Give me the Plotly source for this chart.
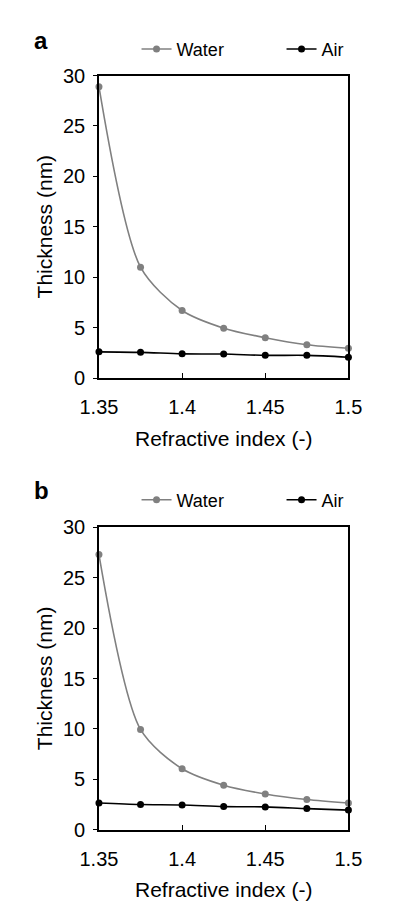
import plotly.graph_objects as go

# ---- data ----
refractive_index = [1.35, 1.375, 1.4, 1.425, 1.45, 1.475, 1.5]
water_a = [28.9, 11.0, 6.7, 4.95, 4.0, 3.3, 2.95]
air_a = [2.6, 2.55, 2.4, 2.38, 2.25, 2.25, 2.07]
water_b = [27.3, 9.95, 6.05, 4.42, 3.55, 3.0, 2.65]
air_b = [2.65, 2.5, 2.46, 2.3, 2.27, 2.1, 1.95]
x_ticks = [1.35, 1.4, 1.45, 1.5]
x_tick_text = ["1.35", "1.4", "1.45", "1.5"]
y_ticks = [0, 5, 10, 15, 20, 25, 30]

W, H = 419, 904
def px(x): return x / W
def py(y): return 1 - y / H

FONT = "Liberation Sans, Arial, sans-serif"
GRAY = "#808080"
BLACK = "#000000"

fig = go.Figure()

def add_panel(xa, ya, legend, water, air):
    fig.add_trace(go.Scatter(x=refractive_index, y=water, name="Water", mode="lines+markers",
                             line=dict(color=GRAY, width=1.6, shape="spline", smoothing=0.8),
                             marker=dict(color=GRAY, size=7), xaxis=xa, yaxis=ya,
                             legend=legend, cliponaxis=False))
    fig.add_trace(go.Scatter(x=refractive_index, y=air, name="Air", mode="lines+markers",
                             line=dict(color=BLACK, width=1.6, shape="spline", smoothing=0.8),
                             marker=dict(color=BLACK, size=7), xaxis=xa, yaxis=ya,
                             legend=legend, cliponaxis=False))

add_panel("x", "y", "legend", water_a, air_a)
add_panel("x2", "y2", "legend2", water_b, air_b)

axis_common_x = dict(range=[1.35, 1.5], tickvals=x_ticks, ticktext=x_tick_text,
                     showline=True, mirror=True, linecolor=BLACK, linewidth=1.5,
                     ticks="inside", ticklen=5, tickwidth=1.2, tickcolor=BLACK,
                     showgrid=False, zeroline=False, ticklabelstandoff=10,
                     tickfont=dict(family=FONT, size=20, color=BLACK))
axis_common_y = dict(range=[0, 30], tickvals=y_ticks,
                     showline=True, mirror=True, linecolor=BLACK, linewidth=1.5,
                     ticks="outside", ticklen=4, tickwidth=1.2, tickcolor=BLACK,
                     showgrid=False, zeroline=False, ticklabelstandoff=4,
                     tickfont=dict(family=FONT, size=20, color=BLACK))

top = (58, 368)
bot = (521, 831)
x0, x1 = 90, 402

fig.update_layout(
    width=W, height=H,
    margin=dict(l=0, r=0, t=0, b=0),
    paper_bgcolor="white", plot_bgcolor="white",
    showlegend=True,
    xaxis=dict(domain=[px(x0), px(x1)], anchor="y", **axis_common_x),
    yaxis=dict(domain=[py(top[1]), py(top[0])], anchor="x", **axis_common_y),
    xaxis2=dict(domain=[px(x0), px(x1)], anchor="y2", **axis_common_x),
    yaxis2=dict(domain=[py(bot[1]), py(bot[0])], anchor="x2", **axis_common_y),
    legend=dict(orientation="h", x=px(137), y=py(31), xanchor="left", yanchor="middle",
                font=dict(family=FONT, size=18, color=BLACK), entrywidth=100,
                bgcolor="rgba(0,0,0,0)"),
    legend2=dict(orientation="h", x=px(137), y=py(493), xanchor="left", yanchor="middle",
                 font=dict(family=FONT, size=18, color=BLACK), entrywidth=100,
                 bgcolor="rgba(0,0,0,0)"),
)

annots = [
    dict(text="<b>a</b>", x=px(18), y=py(22), size=24),
    dict(text="<b>b</b>", x=px(18), y=py(483), size=24),
    dict(text="Refractive index (-)", x=px(246), y=py(430), size=21),
    dict(text="Refractive index (-)", x=px(246), y=py(892), size=21),
    dict(text="Thickness (nm)", x=px(22), y=py(213), textangle=-90, size=21),
    dict(text="Thickness (nm)", x=px(22), y=py(676), textangle=-90, size=21),
]
for a in annots:
    size = a.pop("size")
    fig.add_annotation(xref="paper", yref="paper", showarrow=False,
                       xanchor="center", yanchor="middle",
                       font=dict(family=FONT, size=size, color=BLACK), **a)

fig.write_html("out.html")
